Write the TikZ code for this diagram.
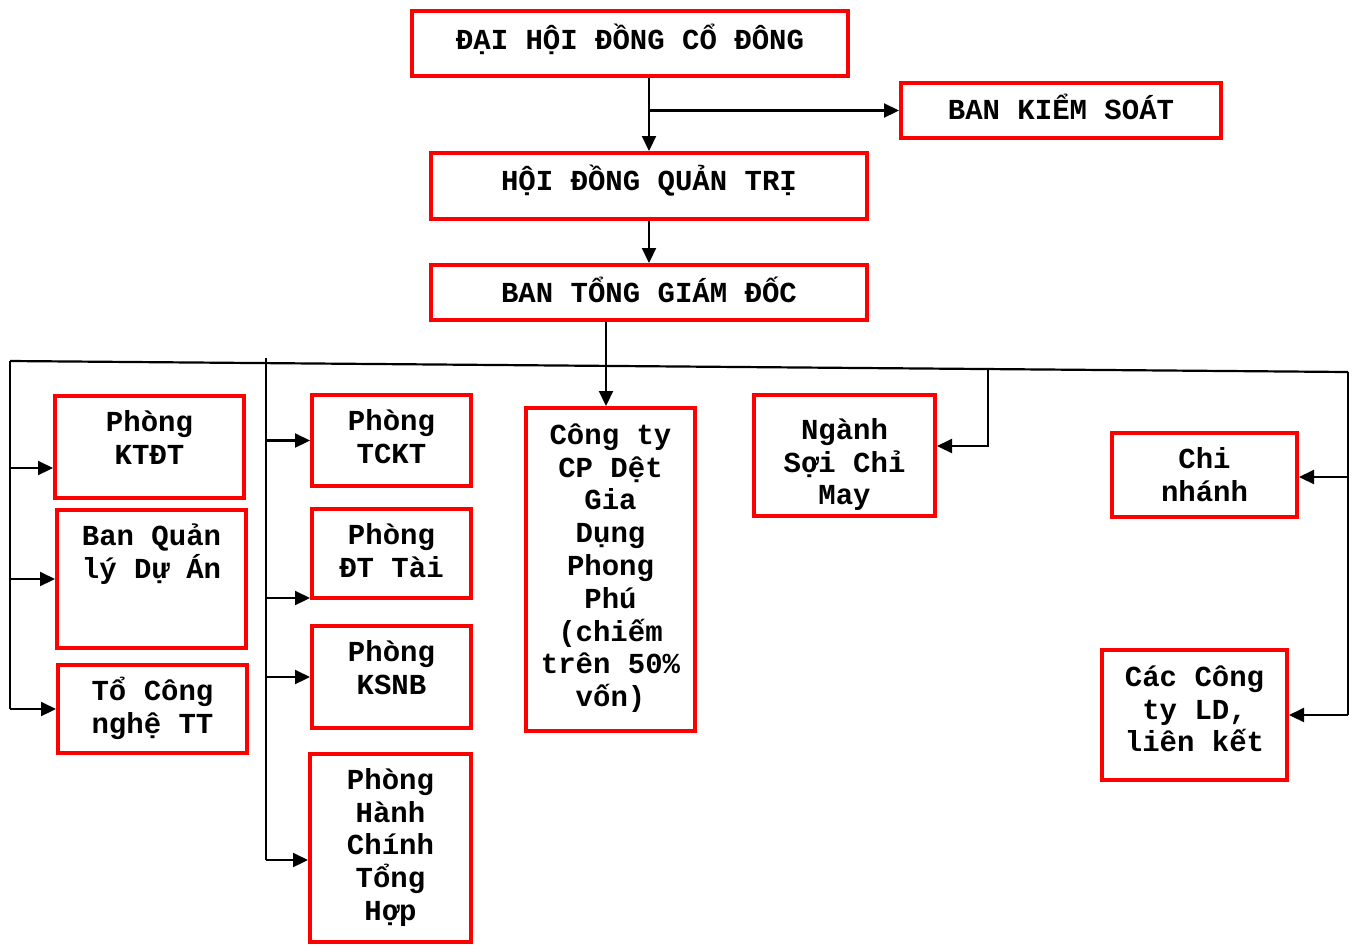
\documentclass[tikz,border=0pt]{standalone}
\usepackage{fontspec}
\newfontfamily\courb{Liberation Mono}
\usetikzlibrary{arrows.meta,calc}
\tikzset{
  box/.style={draw=red, line width=4pt, inner sep=0pt, rectangle},
  lbl/.style={font=\courb\bfseries\fontsize{29}{32.8}\selectfont, inner sep=0pt, align=center, anchor=north},
  arr/.style={line width=2.2pt, -{Triangle[length=15pt,width=14pt]}},
  ln/.style={line width=2.2pt},
}
\newcommand\orgbox[7][0]{%
  \node[box, minimum width={#5pt-#3pt-4pt}, minimum height={#6pt-#4pt-4pt}] (#2) at ({(#3+#5)/2},{(#4+#6)/2}) {};
  \node[lbl] (#2-t) at ({(#3+#5)/2},{#4+7+#1}) {\rule{0pt}{30pt}#7};
}
\begin{document}
\begin{tikzpicture}[x=1pt,y=-1pt]
\useasboundingbox (0,0) rectangle (1357,946);
\orgbox[3]{dhd}{410}{9}{850}{78}{ĐẠI HỘI ĐỒNG CỔ ĐÔNG}
\orgbox[1]{bks}{899}{81}{1223}{140}{BAN KIỂM SOÁT}
\orgbox[2]{hdqt}{429}{151}{869}{221}{HỘI ĐỒNG QUẢN TRỊ}
\orgbox[2]{btgd}{429}{263}{869}{322}{BAN TỔNG GIÁM ĐỐC}
\orgbox{ktdt}{53}{394}{246}{500}{Phòng\\KTĐT}
\orgbox{bql}{55}{508}{248}{650}{Ban Quản\\lý Dự Án}
\orgbox{tocn}{56}{663}{249}{755}{Tổ Công\\nghệ TT}
\orgbox{tckt}{310}{393}{473}{488}{Phòng\\TCKT}
\orgbox{dtt}{310}{507}{473}{600}{Phòng\\ĐT Tài}
\orgbox{ksnb}{310}{624}{473}{730}{Phòng\\KSNB}
\orgbox{hcth}{308}{752}{473}{944}{Phòng\\Hành\\Chính\\Tổng\\Hợp}
\orgbox[1]{cty}{524}{406}{697}{733}{Công ty\\CP Dệt\\Gia\\Dụng\\Phong\\Phú\\(chiếm\\trên 50\%\\vốn)}
\orgbox[9]{ngsc}{752}{393}{937}{518}{Ngành\\Sợi Chỉ\\May}
\orgbox{chinh}{1110}{431}{1299}{519}{Chi\\nhánh}
\orgbox[1]{ctld}{1100}{648}{1289}{782}{Các Công\\ty LD,\\liên kết}

% top connectors
\draw[arr] (dhd.south -| hdqt.north) -- (hdqt.north);
\coordinate (j1) at (hdqt.north |- bks.west);
\draw[arr] (j1) -- (bks.west);
\draw[arr] (hdqt.south) -- (btgd.north);
\coordinate (d1) at ([xshift=-43pt]btgd.south);
\draw[arr] (d1) -- (d1 |- cty.north);

% bus
\coordinate (busL) at (10,361);
\coordinate (busR) at (1348,372);
\draw[ln] (busL) -- (busR);

% left branch
\coordinate (a1) at ([yshift=-21pt]ktdt.west);
\draw[ln] (busL) -- (busL |- tocn.west);
\draw[arr] (busL |- a1) -- (a1);
\draw[arr] (busL |- bql.west) -- (bql.west);
\draw[arr] (busL |- tocn.west) -- (tocn.west);

% second branch
\coordinate (v2t) at (266,358);
\coordinate (b2) at ([yshift=-44.5pt]dtt.west);
\coordinate (b4) at ([yshift=-12pt]hcth.west);
\draw[ln] (v2t) -- (v2t |- b4);
\draw[arr] (v2t |- tckt.west) -- (tckt.west);
\draw[arr] (v2t |- b2) -- (b2);
\draw[arr] (v2t |- ksnb.west) -- (ksnb.west);
\draw[arr] (v2t |- b4) -- (b4);

% nganh
\coordinate (c1) at ($(busL)!{(988-10)/1338}!(busR)$);
\coordinate (n1) at ([yshift=9.5pt]ngsc.east);
\draw[arr] (c1) -- (c1 |- n1) -- (n1);

% right branch
\coordinate (cn1) at ([yshift=-2pt]chinh.east);
\draw[ln] (busR) -- (busR |- ctld.east);
\draw[arr] (busR |- cn1) -- (cn1);
\draw[arr] (busR |- ctld.east) -- (ctld.east);
\end{tikzpicture}
\end{document}
